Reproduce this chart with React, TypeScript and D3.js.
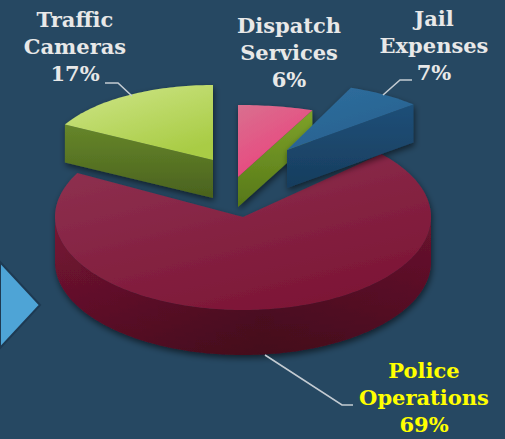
import React from "react";
import * as d3 from "d3";

const categories = ["Traffic Cameras", "Dispatch Services", "Jail Expenses", "Police Operations"];
const values = [17, 6, 7, 69];

// layout (positions / sizes / styles) kept separate from data
const W = 505, H = 439;
const geom = [
  { cx: 213, cy: 160, rx: 168, ry: 75, h: 38 },
  { cx: 238, cy: 177, rx: 200, ry: 72, h: 30 },
  { cx: 287, cy: 150, rx: 172, ry: 67, h: 38 },
  { cx: 243, cy: 217, rx: 188, ry: 93, h: 45 },
];
const styles = [
  { top: ["#cfe68a", "#a9cc45"], wall: ["#6a8a2c", "#4c6620"], face: ["#66862a", "#4a621e"] },
  { top: ["#d9708f", "#ec3f7c"], wall: ["#7ea22a", "#5e7e1c"], face: ["#7ea22a", "#567818"] },
  { top: ["#2f6f9e", "#27608f"], wall: ["#22557f", "#1a4468"], face: ["#1f4f78", "#173d5e"] },
  { top: ["#8f3352", "#7d1636"], wall: ["#781535", "#560d24"], face: ["#6e1230", "#4a0b1e"] },
];
const labelPos = [
  { x: 75, y: 27, color: "#e8e8e8" },
  { x: 289, y: 33, color: "#e8e8e8" },
  { x: 434, y: 26, color: "#e8e8e8" },
  { x: 424, y: 378, color: "#ffff00" },
];
const leaders: ([number, number][] | null)[] = [
  [[105, 83], [118, 83], [132, 96]],
  null,
  [[412, 80], [400, 80], [383, 95]],
  [[265, 355], [342, 405], [353, 405]],
];

type G = { cx: number; cy: number; rx: number; ry: number; h: number };

const proj = (g: G, a: number, dy = 0): [number, number] => [
  g.cx + g.rx * Math.sin(a),
  g.cy - g.ry * Math.cos(a) + dy,
];
const arcPts = (g: G, a0: number, a1: number, dy = 0) => {
  const n = Math.max(2, Math.ceil(Math.abs(a1 - a0) / 0.02));
  return d3.range(n + 1).map((i) => proj(g, a0 + ((a1 - a0) * i) / n, dy));
};
const line = d3.line();

export default function App() {
  const total = d3.sum(values);
  const pie = d3
    .pie<number>()
    .sort(null)
    .startAngle(-(values[0] / total) * Math.PI * 2)
    .endAngle(Math.PI * 2 - (values[0] / total) * Math.PI * 2);
  const arcs = pie(values);

  const order = [3, 0, 1, 2];

  return (
    <svg width={W} height={H} style={{ position: "fixed", left: 0, top: 0 }} fontFamily="'DejaVu Serif', serif">
      <defs>
        <filter id="shd" x="-20%" y="-20%" width="140%" height="160%">
          <feDropShadow dx="1" dy="3" stdDeviation="3" floodColor="#000" floodOpacity="0.55" />
        </filter>
        {styles.map((s, i) => (
          <React.Fragment key={i}>
            <linearGradient id={`top${i}`} x1="0" y1="0" x2="0.6" y2="1">
              <stop offset="0" stopColor={s.top[0]} />
              <stop offset="1" stopColor={s.top[1]} />
            </linearGradient>
            <linearGradient id={`wall${i}`} x1="0" y1="0" x2="0" y2="1">
              <stop offset="0" stopColor={s.wall[0]} />
              <stop offset="1" stopColor={s.wall[1]} />
            </linearGradient>
            <linearGradient id={`face${i}`} x1="0" y1="0" x2="0" y2="1">
              <stop offset="0" stopColor={s.face[0]} />
              <stop offset="1" stopColor={s.face[1]} />
            </linearGradient>
          </React.Fragment>
        ))}
        <linearGradient id="wallShade" x1="0" y1="0" x2="1" y2="0">
          <stop offset="0" stopColor="#000" stopOpacity="0" />
          <stop offset="0.55" stopColor="#000" stopOpacity="0.22" />
          <stop offset="1" stopColor="#000" stopOpacity="0.12" />
        </linearGradient>
      </defs>
      <rect width={W} height={H} fill="#264862" />
      <path d="M0,262 L40,305 L0,348 Z" fill="#4ea4d6" stroke="#1e3a52" strokeWidth={2} />

      {order.map((i) => {
        const a = arcs[i];
        const g = geom[i];
        const a0 = a.startAngle, a1 = a.endAngle;
        const parts: React.ReactNode[] = [];
        const v0 = Math.max(a0, Math.PI / 2), v1 = Math.min(a1, (3 * Math.PI) / 2);
        if (v1 > v0) {
          const topP = arcPts(g, v0, v1);
          const botP = arcPts(g, v1, v0, g.h);
          const d = line([...topP, ...botP]) + "Z";
          parts.push(<path key="w" d={d} fill={`url(#wall${i})`} />);
          parts.push(<path key="ws" d={d} fill="url(#wallShade)" />);
        }
        const face = (ang: number, k: string) => {
          const r = proj(g, ang);
          const pts: [number, number][] = [[g.cx, g.cy], r, [r[0], r[1] + g.h], [g.cx, g.cy + g.h]];
          parts.push(<path key={k} d={line(pts) + "Z"} fill={`url(#face${i})`} />);
        };
        if (Math.sin(a0) < -1e-6) face(a0, "f0");
        if (Math.sin(a1) > 1e-6) face(a1, "f1");
        const topD = line([[g.cx, g.cy], ...arcPts(g, a0, a1)]) + "Z";
        parts.push(<path key="t" d={topD} fill={`url(#top${i})`} />);
        return (
          <g key={i} filter="url(#shd)">
            {parts}
          </g>
        );
      })}

      {leaders.map((l, i) =>
        l ? <path key={i} d={line(l) as string} fill="none" stroke="#c3cbd2" strokeWidth={1.6} /> : null
      )}

      {categories.map((c, i) => {
        const lines = [...c.split(" "), `${values[i]}%`];
        const p = labelPos[i];
        return (
          <text key={i} x={p.x} y={p.y} fill={p.color} fontSize={21} fontWeight="bold" textAnchor="middle">
            {lines.map((t, j) => (
              <tspan key={j} x={p.x} dy={j === 0 ? 0 : 27}>
                {t}
              </tspan>
            ))}
          </text>
        );
      })}
    </svg>
  );
}
